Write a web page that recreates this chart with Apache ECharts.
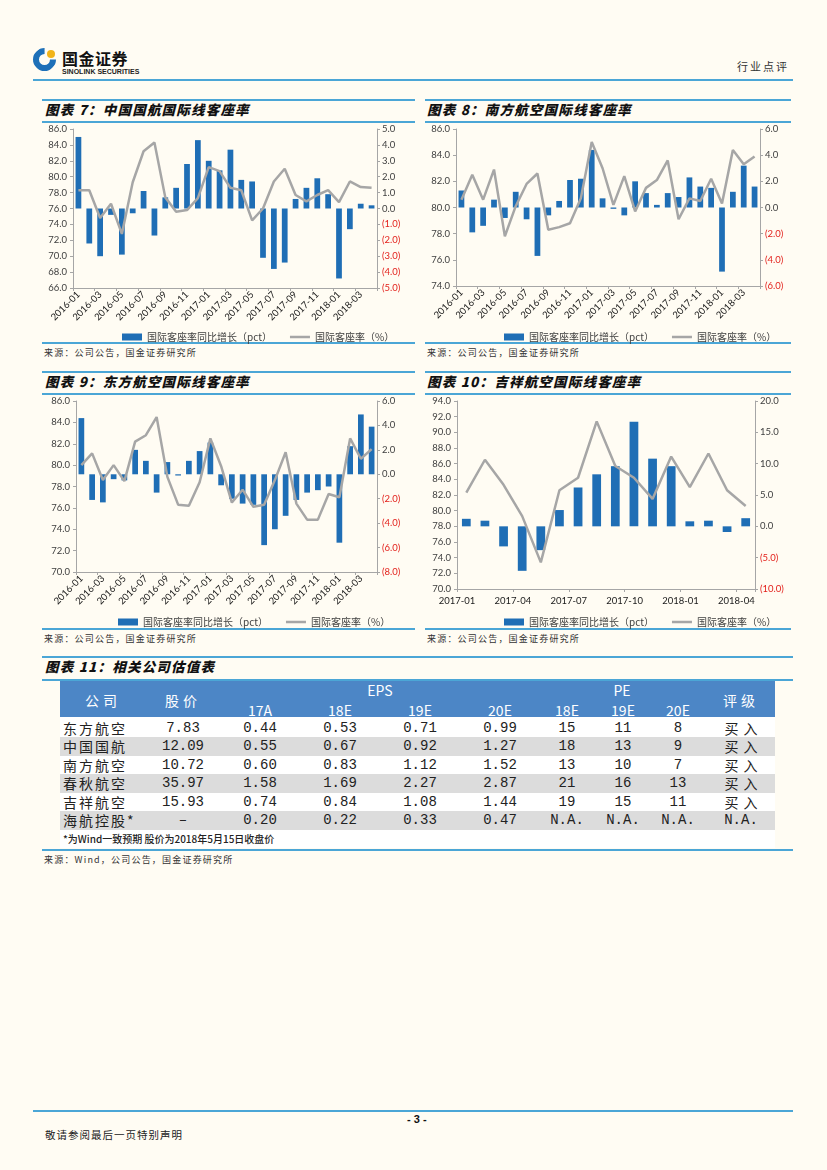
<!DOCTYPE html>
<html><head><meta charset="utf-8">
<script src="https://cdn.jsdelivr.net/npm/echarts@6.0.0/dist/echarts.min.js"></script>
<style>
html,body{margin:0;padding:0;background:#FFFCF3;}
#page{position:relative;width:827px;height:1170px;overflow:hidden;background:#FFFCF3;font-family:"Noto Sans CJK SC",sans-serif;}
.hl{position:absolute;height:2px;background:#4BA6D6;}
.t{position:absolute;white-space:nowrap;line-height:1;}
.title{font-size:13.5px;font-weight:900;font-style:italic;color:#111;letter-spacing:1.2px;}
.src{font-size:9px;color:#333;letter-spacing:1.2px;}
#chart{position:absolute;left:0;top:0;width:827px;height:1170px;}
.cell{position:absolute;white-space:nowrap;transform:translate(-50%,-50%);line-height:1;}
.num{font-family:"Liberation Mono","DejaVu Sans Mono",monospace;font-size:14px;color:#222;}
.cn{font-family:"Noto Sans CJK SC",sans-serif;font-size:14px;color:#222;letter-spacing:2px;}
.hd{color:#fff;font-size:14px;font-family:"Noto Sans CJK SC",sans-serif;}
</style>
</head><body>
<div id="page">
  <!-- header -->
  <div style="position:absolute;left:33px;top:48px;width:11px;height:11px;border-radius:50%;border:6px solid #1E70B8;border-right-color:transparent;transform:rotate(-45deg);"></div>
  <div style="position:absolute;left:47px;top:50px;width:8px;height:8px;border-radius:50%;background:#F2B418;"></div>
  <div class="t" style="left:62px;top:50px;font-size:16px;font-weight:700;color:#111;letter-spacing:0.5px;">国金证券</div>
  <div class="t" style="left:62px;top:68px;font-size:7px;font-weight:700;color:#222;font-family:'Liberation Sans',sans-serif;">SINOLINK SECURITIES</div>
  <div class="t" style="left:737px;top:61px;font-size:11px;color:#333;letter-spacing:2px;">行业点评</div>
  <div class="hl" style="left:33px;top:79px;width:760px;height:1.5px;"></div>

  <!-- chart 7 -->
  <div class="hl" style="left:42px;top:99px;width:373px;"></div>
  <div class="t title" style="left:45px;top:103px;">图表 7：中国国航国际线客座率</div>
  <div class="hl" style="left:42px;top:121px;width:373px;"></div>
  <div class="hl" style="left:42px;top:342px;width:373px;"></div>
  <div class="t src" style="left:44px;top:348px;">来源：公司公告，国金证券研究所</div>
  <!-- chart 8 -->
  <div class="hl" style="left:425px;top:99px;width:366px;"></div>
  <div class="t title" style="left:427px;top:103px;">图表 8：南方航空国际线客座率</div>
  <div class="hl" style="left:425px;top:121px;width:366px;"></div>
  <div class="hl" style="left:425px;top:342px;width:366px;"></div>
  <div class="t src" style="left:427px;top:348px;">来源：公司公告，国金证券研究所</div>
  <!-- chart 9 -->
  <div class="hl" style="left:42px;top:371px;width:373px;"></div>
  <div class="t title" style="left:45px;top:375px;">图表 9：东方航空国际线客座率</div>
  <div class="hl" style="left:42px;top:393px;width:373px;"></div>
  <div class="hl" style="left:42px;top:628px;width:373px;"></div>
  <div class="t src" style="left:44px;top:634px;">来源：公司公告，国金证券研究所</div>
  <!-- chart 10 -->
  <div class="hl" style="left:425px;top:371px;width:366px;"></div>
  <div class="t title" style="left:427px;top:375px;">图表 10：吉祥航空国际线客座率</div>
  <div class="hl" style="left:425px;top:393px;width:366px;"></div>
  <div class="hl" style="left:425px;top:628px;width:366px;"></div>
  <div class="t src" style="left:427px;top:634px;">来源：公司公告，国金证券研究所</div>

  <!-- table -->
  <div class="hl" style="left:42px;top:656px;width:751px;"></div>
  <div class="t title" style="left:45px;top:660px;">图表 11：相关公司估值表</div>
  <div class="hl" style="left:42px;top:679px;width:751px;"></div>
  <div id="tbl"></div>
  <div class="hl" style="left:42px;top:849px;width:751px;"></div>
  <div class="t src" style="left:44px;top:855px;">来源：Wind，公司公告，国金证券研究所</div>

  <!-- footer -->
  <div class="hl" style="left:33px;top:1110px;width:760px;height:1.5px;"></div>
  <div class="t" style="left:407px;top:1114px;font-size:11px;font-weight:700;color:#111;font-family:'Liberation Sans',sans-serif;">- 3 -</div>
  <div class="t" style="left:45px;top:1130px;font-size:10.5px;color:#222;letter-spacing:1px;">敬请参阅最后一页特别声明</div>

  <div id="chart"></div>
</div>
<script>
// ---------- data ----------
const monthsA = ['2016-01','2016-02','2016-03','2016-04','2016-05','2016-06','2016-07','2016-08','2016-09','2016-10','2016-11','2016-12','2017-01','2017-02','2017-03','2017-04','2017-05','2017-06','2017-07','2017-08','2017-09','2017-10','2017-11','2017-12','2018-01','2018-02','2018-03','2018-04'];
const monthsB = ['2017-01','2017-02','2017-03','2017-04','2017-05','2017-06','2017-07','2017-08','2017-09','2017-10','2017-11','2017-12','2018-01','2018-02','2018-03','2018-04'];

// 中国国航
const caYoy = [4.5,-2.2,-3.0,-0.4,-2.9,-0.3,1.1,-1.7,0.7,1.3,2.8,4.3,3.0,2.4,3.7,1.8,1.7,-3.1,-3.8,-3.4,0.6,1.3,1.9,0.9,-4.4,-1.3,0.3,0.2];
const caLf  = [78.3,78.3,74.8,76.6,72.8,79.3,83.2,84.3,77.4,75.6,75.8,77.3,81.2,80.7,78.6,78.3,74.5,76.0,79.4,81.0,77.7,76.9,77.7,78.3,76.8,79.4,78.7,78.6];
// 南方航空
const csYoy = [1.3,-1.9,-1.4,0.6,-0.8,1.2,-0.9,-3.7,-0.6,0.5,2.1,2.2,4.4,0.7,-0.1,-0.6,2.0,1.1,0.2,1.1,0.8,2.3,1.6,1.5,-4.9,1.2,3.2,1.6];
const csLf  = [80.6,82.5,80.6,82.9,77.8,80.1,81.8,82.6,78.3,78.5,78.8,80.7,85.0,83.0,80.2,82.4,79.7,81.5,82.1,83.6,79.1,80.7,80.5,82.2,80.3,84.4,83.3,83.9];
// 东方航空
const ceYoy = [4.6,-2.1,-2.3,-0.4,-0.5,2.0,1.1,-1.5,1.0,-0.1,1.1,1.9,2.6,-0.9,-2.0,-2.4,-2.5,-5.8,-4.5,-3.4,-2.1,-1.5,-1.3,-1.0,-5.6,2.3,4.9,3.9];
const ceLf  = [80.0,81.1,78.6,80.0,78.5,82.2,82.8,84.5,78.9,76.3,76.2,78.4,82.5,79.9,76.5,77.7,76.1,76.3,78.6,81.2,76.4,74.9,74.9,77.3,77.0,82.5,80.6,81.5];
// 吉祥航空
const jyYoy = [1.2,0.9,-3.2,-7.1,-3.8,2.6,6.2,8.3,9.6,16.7,10.8,9.6,0.8,0.9,-0.9,1.3];
const jyLf  = [82.3,86.5,83.3,79.3,73.4,82.6,84.2,91.4,85.7,84.2,81.5,86.9,83.0,87.3,82.6,80.6];

const seriesBarName = '国际客座率同比增长（pct）';
const seriesLineName = '国际客座率（%）';

// table
const companies = ['东方航空','中国国航','南方航空','春秋航空','吉祥航空','海航控股*'];
const prices = ['7.83','12.09','10.72','35.97','15.93','–'];
const eps17A = ['0.44','0.55','0.60','1.58','0.74','0.20'];
const eps18E = ['0.53','0.67','0.83','1.69','0.84','0.22'];
const eps19E = ['0.71','0.92','1.12','2.27','1.08','0.33'];
const eps20E = ['0.99','1.27','1.52','2.87','1.44','0.47'];
const pe18E = ['15','18','13','21','19','N.A.'];
const pe19E = ['11','13','10','16','15','N.A.'];
const pe20E = ['8','9','7','13','11','N.A.'];
const ratings = ['买入','买入','买入','买入','买入','N.A.'];
const epsHeads = ['17A','18E','19E','20E'];
const peHeads = ['18E','19E','20E'];
const tableNote = '*为Wind一致预期 股价为2018年5月15日收盘价';

// ---------- table (HTML) ----------
(function(){
  const tbl = document.getElementById('tbl');
  let h = '';
  h += '<div style="position:absolute;left:60px;top:681px;width:715px;height:36px;background:#4C86C6;"></div>';
  h += '<div style="position:absolute;left:60px;top:717px;width:715px;height:131px;background:#FFFFFF;"></div>';
  const rowTop = 718.5, rowH = 18.5;
  for (let i = 0; i < companies.length; i++) {
    if (i % 2 === 1) h += `<div style="position:absolute;left:60px;top:${rowTop+i*rowH}px;width:715px;height:${rowH}px;background:#DCDCDC;"></div>`;
  }
  h += '<div class="cell hd" style="left:103px;top:700px;letter-spacing:4px;">公司</div>';
  h += '<div class="cell hd" style="left:183px;top:700px;letter-spacing:4px;">股价</div>';
  h += '<div class="cell hd" style="left:380px;top:690px;">EPS</div>';
  h += '<div class="cell hd" style="left:622px;top:690px;">PE</div>';
  h += '<div class="cell hd" style="left:741px;top:700px;letter-spacing:4px;">评级</div>';
  const epsX = [260,340,420,500], peX = [567,623,678];
  epsHeads.forEach((s,k)=>{ h += `<div class="cell hd" style="left:${epsX[k]}px;top:710px;">${s}</div>`; });
  peHeads.forEach((s,k)=>{ h += `<div class="cell hd" style="left:${peX[k]}px;top:710px;">${s}</div>`; });
  const cols = [prices, eps17A, eps18E, eps19E, eps20E, pe18E, pe19E, pe20E];
  const colX = [183,260,340,420,500,567,623,678];
  for (let i = 0; i < companies.length; i++) {
    const cy = rowTop + i*rowH + rowH/2;
    h += `<div class="cell cn" style="left:63px;top:${cy}px;transform:translate(0,-50%);">${companies[i]}</div>`;
    cols.forEach((c,k)=>{ h += `<div class="cell num" style="left:${colX[k]}px;top:${cy}px;">${c[i]}</div>`; });
    const rc = ratings[i] === 'N.A.' ? 'num' : 'cn';
    const ls = ratings[i] === 'N.A.' ? '' : 'letter-spacing:5px;padding-left:5px;';
    h += `<div class="cell ${rc}" style="left:741px;top:${cy}px;${ls}">${ratings[i]}</div>`;
  }
  h += `<div class="t" style="left:63px;top:834px;font-size:10px;color:#222;font-weight:500;">${tableNote}</div>`;
  tbl.innerHTML = h;
})();

// ---------- charts ----------
const BAR = '#1F6EB5', LINE = '#A6A6A6', AXIS = '#A6A6A6', TXT = '#404040';
const charts = [
  {cats: monthsA, yoy: caYoy, lf: caLf, grid:{left:73, top:129, width:304, height:159}, L:[66,86,2], R:[-5,5,1], legend:{left:117, top:327}, rotate:true},
  {cats: monthsA, yoy: csYoy, lf: csLf, grid:{left:456, top:129, width:304, height:157}, L:[74,86,2], R:[-6,6,2], legend:{left:499, top:327}, rotate:true},
  {cats: monthsA, yoy: ceYoy, lf: ceLf, grid:{left:76, top:401, width:301, height:171}, L:[70,86,2], R:[-8,6,2], legend:{left:113, top:612}, rotate:true},
  {cats: monthsB, yoy: jyYoy, lf: jyLf, grid:{left:457, top:401, width:298, height:188}, L:[70,94,2], R:[-10,20,5], legend:{left:499, top:612}, rotate:false}
];

const option = {animation:false, grid:[], xAxis:[], yAxis:[], series:[], legend:[]};
charts.forEach((c, i) => {
  option.grid.push(Object.assign({containLabel:false}, c.grid));
  const catW = c.grid.width / c.cats.length;
  option.xAxis.push({
    type:'category', gridIndex:i, data:c.cats, boundaryGap:true,
    axisLine:{onZero:false, lineStyle:{color:AXIS, width:1}},
    axisTick:{show:true, length:3, interval: c.rotate ? 1 : 2, lineStyle:{color:AXIS}},
    axisLabel: c.rotate
      ? {interval:1, rotate:45, fontSize:9.5, color:'#1a1a1a', fontFamily:'Lato', margin:5}
      : {interval:2, rotate:0, fontSize:9.5, color:'#1a1a1a', fontFamily:'Lato', margin:7, padding:[0, catW, 0, 0]},
    splitLine:{show:false}
  });
  option.yAxis.push({
    type:'value', gridIndex:i, position:'left', min:c.L[0], max:c.L[1], interval:c.L[2],
    axisLine:{show:true, lineStyle:{color:AXIS}}, axisTick:{show:true, length:3, lineStyle:{color:AXIS}},
    axisLabel:{formatter:v=>v.toFixed(1), fontSize:9.5, color:TXT, fontFamily:'Lato', margin:6},
    splitLine:{show:false}
  });
  option.yAxis.push({
    type:'value', gridIndex:i, position:'right', min:c.R[0], max:c.R[1], interval:c.R[2],
    axisLine:{show:true, lineStyle:{color:AXIS}}, axisTick:{show:true, length:3, lineStyle:{color:AXIS}},
    axisLabel:{formatter:v=> v < 0 ? '(' + Math.abs(v).toFixed(1) + ')' : v.toFixed(1),
      color:(v)=> parseFloat(v) < 0 ? '#E3211C' : TXT, fontSize:9.5, fontFamily:'Lato', margin:5},
    splitLine:{show:false}
  });
  option.series.push({
    name:seriesBarName, type:'bar', xAxisIndex:i, yAxisIndex:2*i+1, data:c.yoy,
    barWidth: c.rotate ? '53%' : '47%', itemStyle:{color:BAR}, z:2
  });
  option.series.push({
    name:seriesLineName, type:'line', xAxisIndex:i, yAxisIndex:2*i, data:c.lf,
    symbol:'none', showSymbol:false, lineStyle:{color:LINE, width:2.5}, itemStyle:{color:LINE}, z:3
  });
  option.legend.push({
    left:c.legend.left, top:c.legend.top, itemWidth:20, itemHeight:7, itemGap:18,
    selectedMode:false, symbolKeepAspect:true,
    textStyle:{fontSize:10, color:TXT, fontFamily:'Noto Sans CJK SC'},
    data:[{name:seriesBarName, icon:'rect'},
          {name:seriesLineName, icon:'path://M0,0 L20,0 L20,2.5 L0,2.5 Z', itemStyle:{color:LINE}}]
  });
});

const chart = echarts.init(document.getElementById('chart'), null, {renderer:'canvas'});
chart.setOption(option);
</script>
</body></html>
